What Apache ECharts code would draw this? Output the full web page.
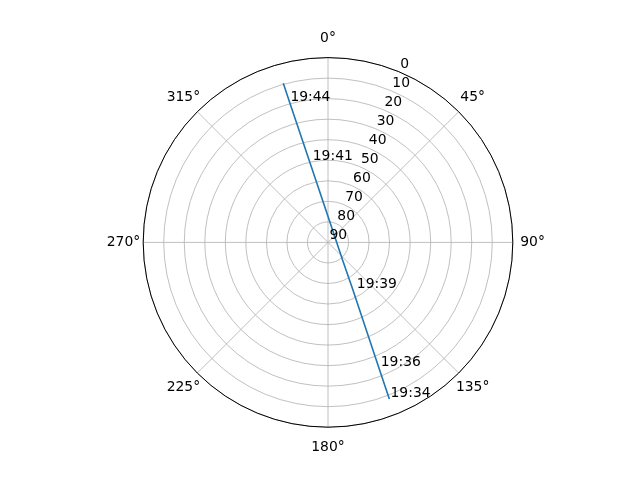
<!DOCTYPE html>
<html>
<head>
<meta charset="utf-8">
<script src="https://cdn.jsdelivr.net/npm/echarts@6/dist/echarts.min.js"></script>
<style>
    html, body { margin: 0; padding: 0; background: #fff; }
    #main { width: 640px; height: 480px; }
</style>
</head>
<body>
<div id="main"></div>
<script>
// pass track: elevation (deg) and azimuth (deg)
var passElevation = [9.5, 19.6, 49.7, 79.1, 78.9, 64.2, 24.5, 8.1];
var passAzimuth   = [344.3, 344.7, 347.2, 3.1, 140.3, 152.2, 157.9, 158.6];

// time annotations along the track
var timeLabels    = ['19:44', '19:41', '19:39', '19:36', '19:34'];
var timeElevation = [16.9, 47.6, 65.4, 26.4, 10.4];
var timeAzimuth   = [345.3, 349.6, 145.9, 156.4, 157.7];

// radial ticks, labels drawn along the 22.5 deg spoke
var radiusTicks = [0, 10, 20, 30, 40, 50, 60, 70, 80, 90];
var angleTicks  = [0, 45, 90, 135, 180, 225, 270, 315];

var fontFamily = 'DejaVu Sans';
var fontSize = 13.9;
var gridColor = '#b0b0b0';

// per label padding so the angle labels sit centred on one circle, like matplotlib
var anglePad = {
    0:   [0, 0, 22.7, 0],
    45:  [0, 0, 14, 8.7],
    90:  [0, 0, 0, 17.4],
    135: [14, 0, 0, 4.3],
    180: [22.7, 0, 0, 0],
    225: [14, 4.3, 0, 0],
    270: [0, 13, 0, 0],
    315: [0, 4.3, 14, 0]
};
var angleRich = {};
angleTicks.forEach(function (a) {
    angleRich['a' + a] = {
        padding: anglePad[a],
        fontFamily: fontFamily,
        fontSize: fontSize,
        color: '#000'
    };
});

var option = {
    animation: false,
    backgroundColor: '#fff',
    polar: {
        center: ['51.25%', '50.5%'],
        radius: 184.8
    },
    angleAxis: {
        type: 'value',
        min: 0,
        max: 360,
        interval: 45,
        startAngle: 90,
        clockwise: true,
        axisLine: { show: true, lineStyle: { color: '#000', width: 1 } },
        axisTick: { show: false },
        axisLabel: {
            margin: -10,
            formatter: function (value) {
                if (value >= 360) return '';
                return '{a' + value + '|' + value + '°}';
            },
            rich: angleRich
        },
        splitLine: { show: true, lineStyle: { color: gridColor, width: 0.8 } }
    },
    radiusAxis: {
        type: 'value',
        min: 0,
        max: 90,
        interval: 10,
        inverse: true,
        axisLine: { show: false },
        axisTick: { show: false },
        axisLabel: { show: false },
        splitLine: { show: true, lineStyle: { color: gridColor, width: 0.8 } }
    },
    series: [
        {
            name: 'pass',
            type: 'line',
            coordinateSystem: 'polar',
            showSymbol: false,
            symbol: 'none',
            lineStyle: { color: '#1f77b4', width: 1.6 },
            data: passElevation.map(function (e, i) { return [e, passAzimuth[i]]; }),
            z: 3
        },
        {
            name: 'times',
            type: 'scatter',
            coordinateSystem: 'polar',
            silent: true,
            symbolSize: 1,
            itemStyle: { color: 'rgba(0,0,0,0)', opacity: 1 },
            label: {
                show: true,
                position: 'right',
                distance: 0,
                formatter: function (p) { return p.name; },
                fontFamily: fontFamily,
                fontSize: fontSize,
                color: '#000'
            },
            data: timeLabels.map(function (t, i) {
                return { name: t, value: [timeElevation[i], timeAzimuth[i]] };
            }),
            z: 4
        },
        {
            name: 'rticks',
            type: 'scatter',
            coordinateSystem: 'polar',
            silent: true,
            symbolSize: 1,
            itemStyle: { color: 'rgba(0,0,0,0)', opacity: 1 },
            label: {
                show: true,
                position: 'right',
                distance: 0,
                offset: [1, -7],
                formatter: function (p) { return String(p.value[0]); },
                fontFamily: fontFamily,
                fontSize: fontSize,
                color: '#000'
            },
            data: radiusTicks.map(function (v) { return [v, 22.5]; }),
            z: 4
        }
    ]
};

var myChart = echarts.init(document.getElementById('main'));
myChart.setOption(option);
</script>
</body>
</html>
